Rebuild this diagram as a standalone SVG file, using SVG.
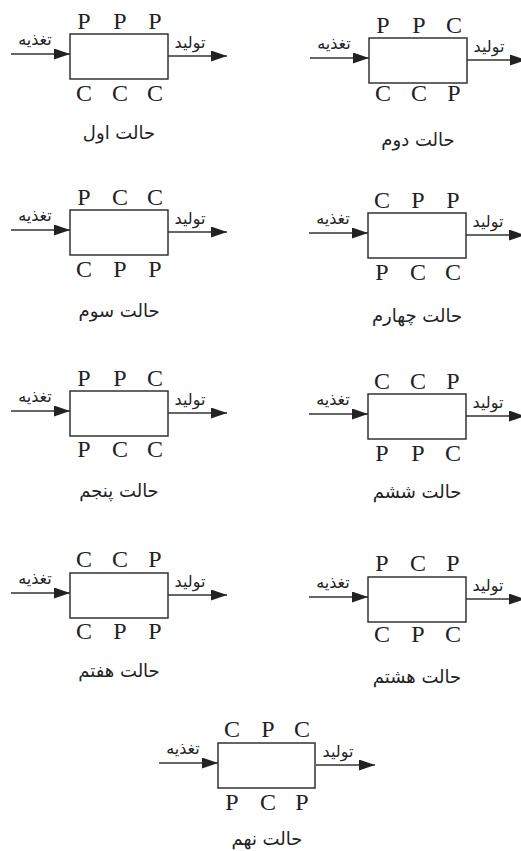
<svg xmlns="http://www.w3.org/2000/svg" width="521" height="851" viewBox="0 0 521 851">
<style>
.box{fill:#fff;stroke:#333;stroke-width:1.5}
.L{font-family:"Liberation Serif","Times New Roman",serif;font-size:24px;fill:#222;text-anchor:middle}
.ar{font-family:"DejaVu Sans","Noto Sans",sans-serif;font-size:16px;fill:#222;text-anchor:middle}
.cap{font-family:"DejaVu Sans","Noto Sans",sans-serif;font-size:18px;fill:#222;text-anchor:middle}
.c{stroke:#333;stroke-width:1.5;fill:none;marker-end:url(#ah)}
</style>
<defs>
<marker id="ah" markerUnits="userSpaceOnUse" markerWidth="17" markerHeight="11" refX="16" refY="5.5" orient="auto">
<path d="M0,0 L16,5.5 L0,11 z" fill="#222"/>
</marker>
</defs>
<g id="connectors">
<line class="c" x1="11" y1="54" x2="70" y2="54"/><line class="c" x1="168" y1="56" x2="227" y2="56"/>
<line class="c" x1="310" y1="58" x2="369" y2="58"/><line class="c" x1="467" y1="60" x2="526" y2="60"/>
<line class="c" x1="11" y1="230" x2="70" y2="230"/><line class="c" x1="168" y1="232" x2="227" y2="232"/>
<line class="c" x1="309" y1="233" x2="368" y2="233"/><line class="c" x1="466" y1="235" x2="525" y2="235"/>
<line class="c" x1="11" y1="411" x2="70" y2="411"/><line class="c" x1="168" y1="413" x2="227" y2="413"/>
<line class="c" x1="309" y1="414" x2="368" y2="414"/><line class="c" x1="466" y1="416" x2="525" y2="416"/>
<line class="c" x1="11" y1="593" x2="70" y2="593"/><line class="c" x1="168" y1="595" x2="227" y2="595"/>
<line class="c" x1="309" y1="597" x2="368" y2="597"/><line class="c" x1="466" y1="599" x2="525" y2="599"/>
<line class="c" x1="159" y1="763" x2="218" y2="763"/><line class="c" x1="316" y1="765" x2="375" y2="765"/>
<g id="connector-labels">
<text class="ar" x="35" y="45">تغذیه</text><text class="ar" x="190" y="48">تولید</text>
<text class="ar" x="334" y="49">تغذیه</text><text class="ar" x="489" y="52">تولید</text>
<text class="ar" x="35" y="221">تغذیه</text><text class="ar" x="190" y="224">تولید</text>
<text class="ar" x="333" y="224">تغذیه</text><text class="ar" x="488" y="227">تولید</text>
<text class="ar" x="35" y="402">تغذیه</text><text class="ar" x="190" y="405">تولید</text>
<text class="ar" x="333" y="405">تغذیه</text><text class="ar" x="488" y="408">تولید</text>
<text class="ar" x="35" y="584">تغذیه</text><text class="ar" x="190" y="587">تولید</text>
<text class="ar" x="333" y="588">تغذیه</text><text class="ar" x="488" y="591">تولید</text>
<text class="ar" x="183" y="754">تغذیه</text><text class="ar" x="338" y="757">تولید</text>
</g>
</g>
<g id="case1" transform="translate(70,34)">
<rect class="box" x="0" y="0" width="98" height="45"/>
<text class="L" x="14" y="-5">P</text><text class="L" x="50" y="-5">P</text><text class="L" x="85" y="-5">P</text>
<text class="L" x="14" y="67">C</text><text class="L" x="50" y="67">C</text><text class="L" x="85" y="67">C</text>
<text class="cap" x="49" y="105">حالت اول</text>
</g>
<g id="case2" transform="translate(369,38)">
<rect class="box" x="0" y="0" width="98" height="45"/>
<text class="L" x="14" y="-5">P</text><text class="L" x="50" y="-5">P</text><text class="L" x="85" y="-5">C</text>
<text class="L" x="14" y="63">C</text><text class="L" x="50" y="63">C</text><text class="L" x="85" y="63">P</text>
<text class="cap" x="49" y="108">حالت دوم</text>
</g>
<g id="case3" transform="translate(70,210)">
<rect class="box" x="0" y="0" width="98" height="45"/>
<text class="L" x="14" y="-5">P</text><text class="L" x="50" y="-5">C</text><text class="L" x="85" y="-5">C</text>
<text class="L" x="14" y="67">C</text><text class="L" x="50" y="67">P</text><text class="L" x="85" y="67">P</text>
<text class="cap" x="49" y="107">حالت سوم</text>
</g>
<g id="case4" transform="translate(368,213)">
<rect class="box" x="0" y="0" width="98" height="45"/>
<text class="L" x="14" y="-5">C</text><text class="L" x="50" y="-5">P</text><text class="L" x="85" y="-5">P</text>
<text class="L" x="14" y="67">P</text><text class="L" x="50" y="67">C</text><text class="L" x="85" y="67">C</text>
<text class="cap" x="49" y="109">حالت چهارم</text>
</g>
<g id="case5" transform="translate(70,391)">
<rect class="box" x="0" y="0" width="98" height="45"/>
<text class="L" x="14" y="-5">P</text><text class="L" x="50" y="-5">P</text><text class="L" x="85" y="-5">C</text>
<text class="L" x="14" y="66">P</text><text class="L" x="50" y="66">C</text><text class="L" x="85" y="66">C</text>
<text class="cap" x="49" y="106">حالت پنجم</text>
</g>
<g id="case6" transform="translate(368,394)">
<rect class="box" x="0" y="0" width="98" height="45"/>
<text class="L" x="14" y="-5">C</text><text class="L" x="50" y="-5">C</text><text class="L" x="85" y="-5">P</text>
<text class="L" x="14" y="67">P</text><text class="L" x="50" y="67">P</text><text class="L" x="85" y="67">C</text>
<text class="cap" x="49" y="104">حالت ششم</text>
</g>
<g id="case7" transform="translate(70,573)">
<rect class="box" x="0" y="0" width="98" height="45"/>
<text class="L" x="14" y="-6">C</text><text class="L" x="50" y="-6">C</text><text class="L" x="85" y="-6">P</text>
<text class="L" x="14" y="66">C</text><text class="L" x="50" y="66">P</text><text class="L" x="85" y="66">P</text>
<text class="cap" x="49" y="104">حالت هفتم</text>
</g>
<g id="case8" transform="translate(368,577)">
<rect class="box" x="0" y="0" width="98" height="45"/>
<text class="L" x="14" y="-6">P</text><text class="L" x="50" y="-6">C</text><text class="L" x="85" y="-6">P</text>
<text class="L" x="14" y="65">C</text><text class="L" x="50" y="65">P</text><text class="L" x="85" y="65">C</text>
<text class="cap" x="49" y="106">حالت هشتم</text>
</g>
<g id="case9" transform="translate(218,743)">
<rect class="box" x="0" y="0" width="97" height="45"/>
<text class="L" x="14" y="-6">C</text><text class="L" x="50" y="-6">P</text><text class="L" x="84" y="-6">C</text>
<text class="L" x="14" y="67">P</text><text class="L" x="50" y="67">C</text><text class="L" x="84" y="67">P</text>
<text class="cap" x="49" y="102">حالت نهم</text>
</g>
</svg>
